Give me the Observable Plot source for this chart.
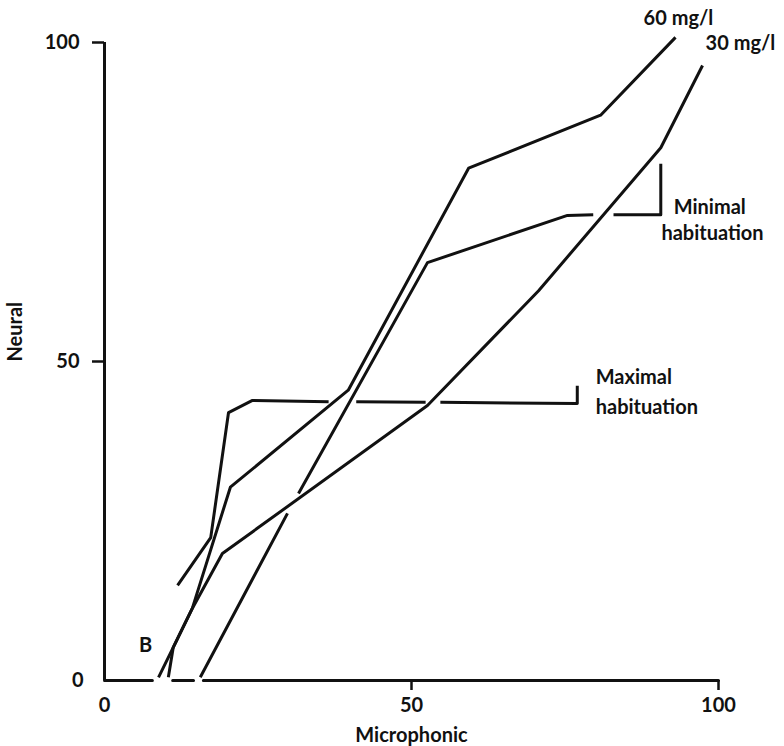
<!DOCTYPE html>
<html>
<head>
<meta charset="utf-8">
<script src="https://cdn.jsdelivr.net/npm/d3@7"></script>
<script src="https://cdn.jsdelivr.net/npm/@observablehq/plot@0.6"></script>
<style>
  body { margin: 0; background: #fff; }
</style>
</head>
<body>
<div id="chart"></div>
<script>
// Series values (Microphonic vs Neural); NaN marks a pen break where lines cross
const x60 = [8.8, 11.2, 14.3, 20.5, 39.7, 59.3, 80.8, 93.0];
const y60 = [0.5, 5.2, 11.3, 30.3, 45.5, 80.3, 88.6, 100.8];

const x30 = [10.4, 11.2, 14.3, 19.2, 52.6, 70.7, 90.6, 97.4];
const y30 = [0.5, 5.2, 11.3, 19.9, 43.1, 61.1, 83.5, 96.4];

const xMin = [15.6, 29.8, 30.7, 31.6, 52.6, 75.4, 79.6, 81.2, 82.9, 90.6, 90.6];
const yMin = [0.5, 26.2, NaN, 29.3, 65.5, 72.9, 73.0, NaN, 73.0, 73.0, 81.0];

const xMax = [11.9, 17.3, 20.2, 24.1, 36.5, 38.7, 41.0, 52.3, 53.5, 54.7, 77.0, 77.0];
const yMax = [14.9, 22.4, 42.0, 43.9, 43.7, NaN, 43.7, 43.6, NaN, 43.6, 43.4, 46.2];

// x axis baseline with pen breaks
const xAxisX = [0, 7.8, 9.5, 11.1, 14.5, 15.3, 16.1, 100];
const xAxisY = [0, 0, NaN, 0, 0, NaN, 0, 0];

const ticks = [50, 100];
const zeroTick = [0];

// annotations
const noteText = ["60 mg/l", "30 mg/l", "Minimal", "habituation", "Maximal", "habituation"];
const noteX = [87.8, 97.9, 92.7, 90.7, 80.0, 80.0];
const noteY = [103.8, 99.8, 74.1, 70.1, 47.5, 42.8];
const bText = ["B"];
const bX = [6.7];
const bY = [5.5];

const xTitle = "Microphonic";
const yTitle = "Neural";

function build(name, xs, ys) {
  return xs.map((v, i) => ({series: name, x: v, y: ys[i]}));
}
const rows = [
  ...build("60 mg/l", x60, y60),
  ...build("30 mg/l", x30, y30),
  ...build("Minimal", xMin, yMin),
  ...build("Maximal", xMax, yMax)
];
const axisRows = xAxisX.map((v, i) => ({x: v, y: xAxisY[i]}));
const notes = noteText.map((t, i) => ({text: t, x: noteX[i], y: noteY[i]}));
const bNotes = bText.map((t, i) => ({text: t, x: bX[i], y: bY[i]}));

const ink = "#111";
const font = "Lato, 'Open Sans', sans-serif";
const fs = 20;

const chart = Plot.plot({
  width: 784,
  height: 746,
  marginTop: 42,
  marginBottom: 66,
  marginLeft: 104,
  marginRight: 66,
  x: {domain: [0, 100]},
  y: {domain: [0, 100]},
  style: {fontFamily: font, fontSize: fs + "px", fontWeight: "bold", color: ink, background: "#fff", overflow: "visible"},
  marks: [
    Plot.ruleX([0], {y1: 0, y2: 100, stroke: ink, strokeWidth: 3}),
    Plot.line(axisRows, {x: "x", y: "y", stroke: ink, strokeWidth: 3}),
    Plot.axisX(ticks, {tickSize: 10, tickPadding: 7, strokeWidth: 2.5, stroke: ink, fill: ink, fontSize: fs, label: null}),
    Plot.axisX(zeroTick, {tickSize: 0, tickPadding: 17, fill: ink, fontSize: fs, label: null}),
    Plot.axisY(ticks, {tickSize: 12, tickPadding: 13, strokeWidth: 2.5, stroke: ink, fill: ink, fontSize: fs, label: null}),
    Plot.axisY(zeroTick, {tickSize: 0, tickPadding: 21, fill: ink, fontSize: fs, label: null}),
    Plot.line(rows, {x: "x", y: "y", z: "series", stroke: ink, strokeWidth: 3, strokeLinejoin: "round", strokeLinecap: "butt"}),
    Plot.text(notes, {x: "x", y: "y", text: "text", textAnchor: "start", fill: ink, fontSize: fs, fontWeight: "bold"}),
    Plot.text(bNotes, {x: "x", y: "y", text: "text", textAnchor: "middle", fill: ink, fontSize: fs, fontWeight: "bold"}),
    Plot.text([xTitle], {frameAnchor: "bottom", lineAnchor: "middle", dy: 55, fill: ink, fontSize: fs, fontWeight: "bold"}),
    Plot.text([yTitle], {frameAnchor: "left", lineAnchor: "middle", dx: -89, rotate: -90, fill: ink, fontSize: fs, fontWeight: "bold"})
  ]
});
document.getElementById("chart").appendChild(chart);
</script>
</body>
</html>
